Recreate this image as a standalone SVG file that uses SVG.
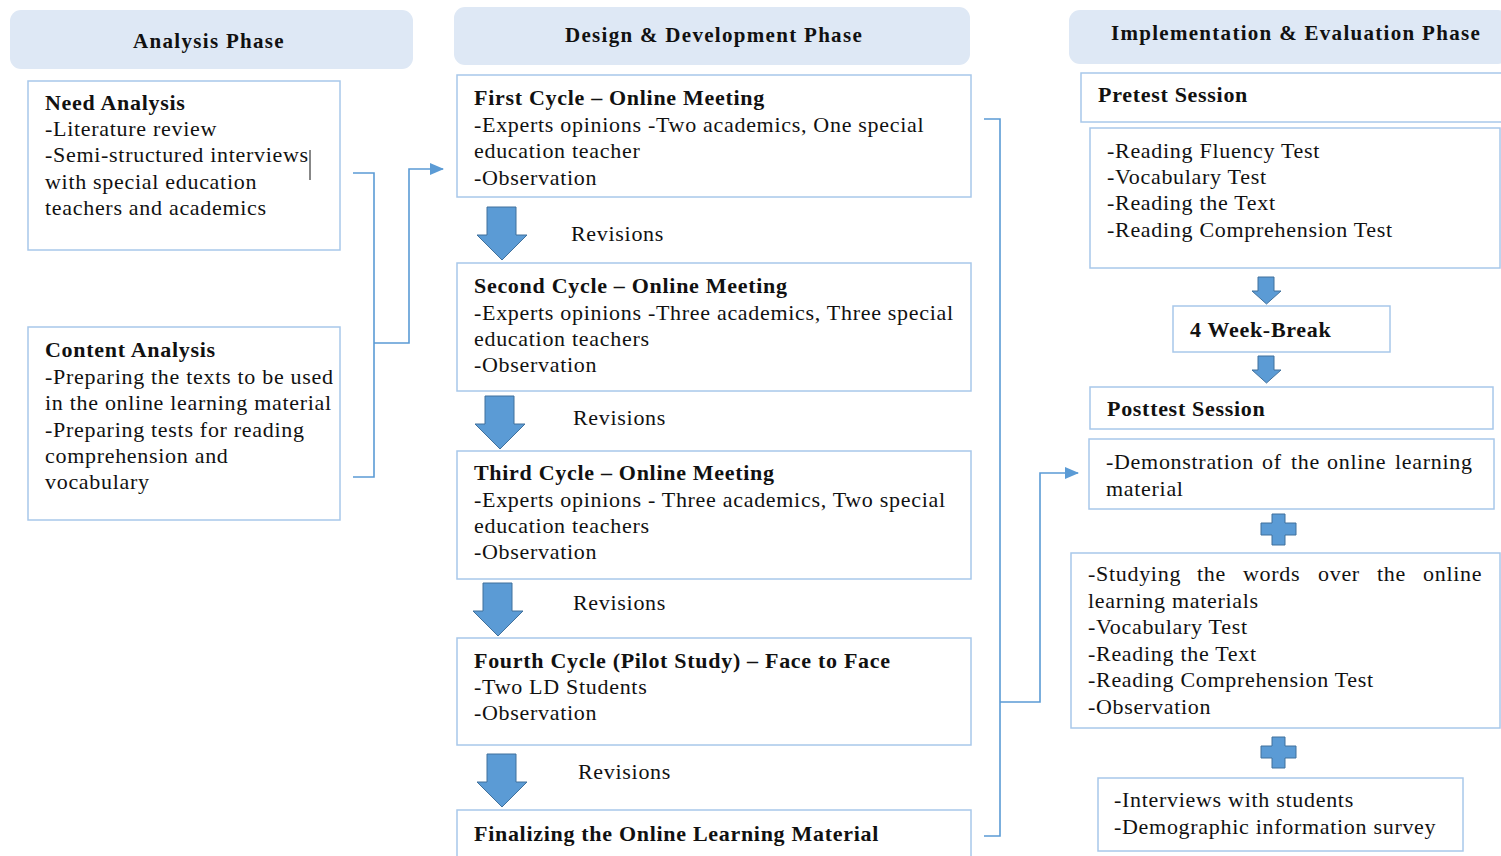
<svg xmlns="http://www.w3.org/2000/svg" width="1501" height="856" viewBox="0 0 1501 856">
  <style>
    .hdr { fill: #dee8f5; }
    .box { fill: #ffffff; stroke: #a8c8ea; stroke-width: 1.5; }
    .t { font-family: "Liberation Serif", "Times New Roman", serif; font-size: 22px; letter-spacing: 0.7px; fill: #111; }
    .b { font-weight: bold; }
    .h { font-family: "Liberation Serif", "Times New Roman", serif; font-size: 21px; letter-spacing: 1.3px; font-weight: bold; fill: #111; text-anchor: middle; }
    .conn { fill: none; stroke: #5b9bd5; stroke-width: 1.6; }
    .blk { fill: #5b9bd5; stroke: #41719c; stroke-width: 1; }
  </style>
  <defs>
    <marker id="head" markerWidth="14" markerHeight="12" refX="13" refY="6" orient="auto" markerUnits="userSpaceOnUse">
      <path d="M0,0 L14,6 L0,12 Z" fill="#5b9bd5"/>
    </marker>
    <path id="bigDown" d="M10,0 H39 V28 H50 L25,53 L0,28 H10 Z"/>
    <path id="smallDown" d="M6,0 H22 V14 H29 L14.5,27 L0,14 H6 Z"/>
    <path id="plus" d="M11,0 H24 V9 H35 V21 H24 V31 H11 V21 H0 V9 H11 Z"/>
  </defs>

  <!-- phase headers -->
  <g id="hdr-analysis">
    <rect class="hdr" x="10" y="10" width="403" height="59" rx="11"/>
    <text class="h" x="209" y="48">Analysis Phase</text>
  </g>
  <g id="hdr-design">
    <rect class="hdr" x="454" y="7" width="516" height="58" rx="11"/>
    <text class="h" x="714" y="42">Design &amp; Development Phase</text>
  </g>
  <g id="hdr-impl">
    <rect class="hdr" x="1069" y="10" width="440" height="54" rx="11"/>
    <text class="h" x="1296" y="40">Implementation &amp; Evaluation Phase</text>
  </g>

  <!-- analysis column -->
  <g id="need-analysis">
    <rect class="box" x="28" y="81" width="312" height="169"/>
    <text class="t">
      <tspan class="b" x="45" y="110">Need Analysis</tspan>
      <tspan x="45" y="136">-Literature review</tspan>
      <tspan x="45" y="162">-Semi-structured interviews</tspan>
      <tspan x="45" y="189">with special education</tspan>
      <tspan x="45" y="215">teachers and academics</tspan>
    </text>
    <line x1="310" y1="150" x2="310" y2="180" stroke="#111" stroke-width="1"/>
  </g>
  <g id="content-analysis">
    <rect class="box" x="28" y="327" width="312" height="193"/>
    <text class="t">
      <tspan class="b" x="45" y="357">Content Analysis</tspan>
      <tspan x="45" y="384">-Preparing the texts to be used</tspan>
      <tspan x="45" y="410">in the online learning material</tspan>
      <tspan x="45" y="437">-Preparing tests for reading</tspan>
      <tspan x="45" y="463">comprehension and</tspan>
      <tspan x="45" y="489">vocabulary</tspan>
    </text>
  </g>

  <!-- design & development column -->
  <g id="cycle-1">
    <rect class="box" x="457" y="75" width="514" height="122"/>
    <text class="t">
      <tspan class="b" x="474" y="105">First Cycle – Online Meeting</tspan>
      <tspan x="474" y="132">-Experts opinions -Two academics, One special</tspan>
      <tspan x="474" y="158">education teacher</tspan>
      <tspan x="474" y="185">-Observation</tspan>
    </text>
  </g>
  <g id="rev-1">
    <use href="#bigDown" class="blk" transform="translate(477,207)"/>
    <text class="t" x="571" y="241">Revisions</text>
  </g>
  <g id="cycle-2">
    <rect class="box" x="457" y="263" width="514" height="128"/>
    <text class="t">
      <tspan class="b" x="474" y="293">Second Cycle – Online Meeting</tspan>
      <tspan x="474" y="320">-Experts opinions -Three academics, Three special</tspan>
      <tspan x="474" y="346">education teachers</tspan>
      <tspan x="474" y="372">-Observation</tspan>
    </text>
  </g>
  <g id="rev-2">
    <use href="#bigDown" class="blk" transform="translate(475,396)"/>
    <text class="t" x="573" y="425">Revisions</text>
  </g>
  <g id="cycle-3">
    <rect class="box" x="457" y="451" width="514" height="128"/>
    <text class="t">
      <tspan class="b" x="474" y="480">Third Cycle – Online Meeting</tspan>
      <tspan x="474" y="507">-Experts opinions - Three academics, Two special</tspan>
      <tspan x="474" y="533">education teachers</tspan>
      <tspan x="474" y="559">-Observation</tspan>
    </text>
  </g>
  <g id="rev-3">
    <use href="#bigDown" class="blk" transform="translate(473,583)"/>
    <text class="t" x="573" y="610">Revisions</text>
  </g>
  <g id="cycle-4">
    <rect class="box" x="457" y="638" width="514" height="107"/>
    <text class="t">
      <tspan class="b" x="474" y="668">Fourth Cycle (Pilot Study) – Face to Face</tspan>
      <tspan x="474" y="694">-Two LD Students</tspan>
      <tspan x="474" y="720">-Observation</tspan>
    </text>
  </g>
  <g id="rev-4">
    <use href="#bigDown" class="blk" transform="translate(477,754)"/>
    <text class="t" x="578" y="779">Revisions</text>
  </g>
  <g id="finalizing">
    <rect class="box" x="457" y="810" width="514" height="60"/>
    <text class="t b" x="474" y="841">Finalizing the Online Learning Material</text>
  </g>

  <!-- implementation & evaluation column -->
  <g id="pretest">
    <rect class="box" x="1081" y="73" width="430" height="49"/>
    <text class="t b" x="1098" y="102">Pretest Session</text>
  </g>
  <g id="pretest-tests">
    <rect class="box" x="1090" y="128" width="410" height="140"/>
    <text class="t">
      <tspan x="1107" y="158">-Reading Fluency Test</tspan>
      <tspan x="1107" y="184">-Vocabulary Test</tspan>
      <tspan x="1107" y="210">-Reading the Text</tspan>
      <tspan x="1107" y="237">-Reading Comprehension Test</tspan>
    </text>
  </g>
  <use href="#smallDown" class="blk" transform="translate(1252,277)"/>
  <g id="break">
    <rect class="box" x="1173" y="306" width="217" height="46"/>
    <text class="t b" x="1190" y="337">4 Week-Break</text>
  </g>
  <use href="#smallDown" class="blk" transform="translate(1252,356)"/>
  <g id="posttest">
    <rect class="box" x="1090" y="387" width="403" height="42"/>
    <text class="t b" x="1107" y="416">Posttest Session</text>
  </g>
  <g id="demonstration">
    <rect class="box" x="1089" y="439" width="405" height="70"/>
    <text class="t">
      <tspan x="1106" y="469">-Demonstration</tspan>
      <tspan x="1262" y="469">of</tspan>
      <tspan x="1291" y="469">the</tspan>
      <tspan x="1327" y="469">online</tspan>
      <tspan x="1395" y="469">learning</tspan>
      <tspan x="1106" y="496">material</tspan>
    </text>
  </g>
  <use href="#plus" class="blk" transform="translate(1261,514)"/>
  <g id="study-session">
    <rect class="box" x="1071" y="553" width="429" height="175"/>
    <text class="t">
      <tspan x="1088" y="581">-Studying</tspan>
      <tspan x="1197" y="581">the</tspan>
      <tspan x="1243" y="581">words</tspan>
      <tspan x="1318" y="581">over</tspan>
      <tspan x="1377" y="581">the</tspan>
      <tspan x="1423" y="581">online</tspan>
      <tspan x="1088" y="608">learning materials</tspan>
      <tspan x="1088" y="634">-Vocabulary Test</tspan>
      <tspan x="1088" y="661">-Reading the Text</tspan>
      <tspan x="1088" y="687">-Reading Comprehension Test</tspan>
      <tspan x="1088" y="714">-Observation</tspan>
    </text>
  </g>
  <use href="#plus" class="blk" transform="translate(1261,737)"/>
  <g id="interviews">
    <rect class="box" x="1098" y="778" width="365" height="73"/>
    <text class="t">
      <tspan x="1114" y="807">-Interviews with students</tspan>
      <tspan x="1114" y="834">-Demographic information survey</tspan>
    </text>
  </g>

  <!-- bracket connectors between phases -->
  <g id="connectors">
    <path class="conn" d="M353,173 H374 V477 H353"/>
    <path class="conn" d="M374,343 H409 V169 H443" marker-end="url(#head)"/>
    <path class="conn" d="M984,119 H1000 V836 H984"/>
    <path class="conn" d="M1000,702 H1040 V473 H1078" marker-end="url(#head)"/>
  </g>
</svg>
